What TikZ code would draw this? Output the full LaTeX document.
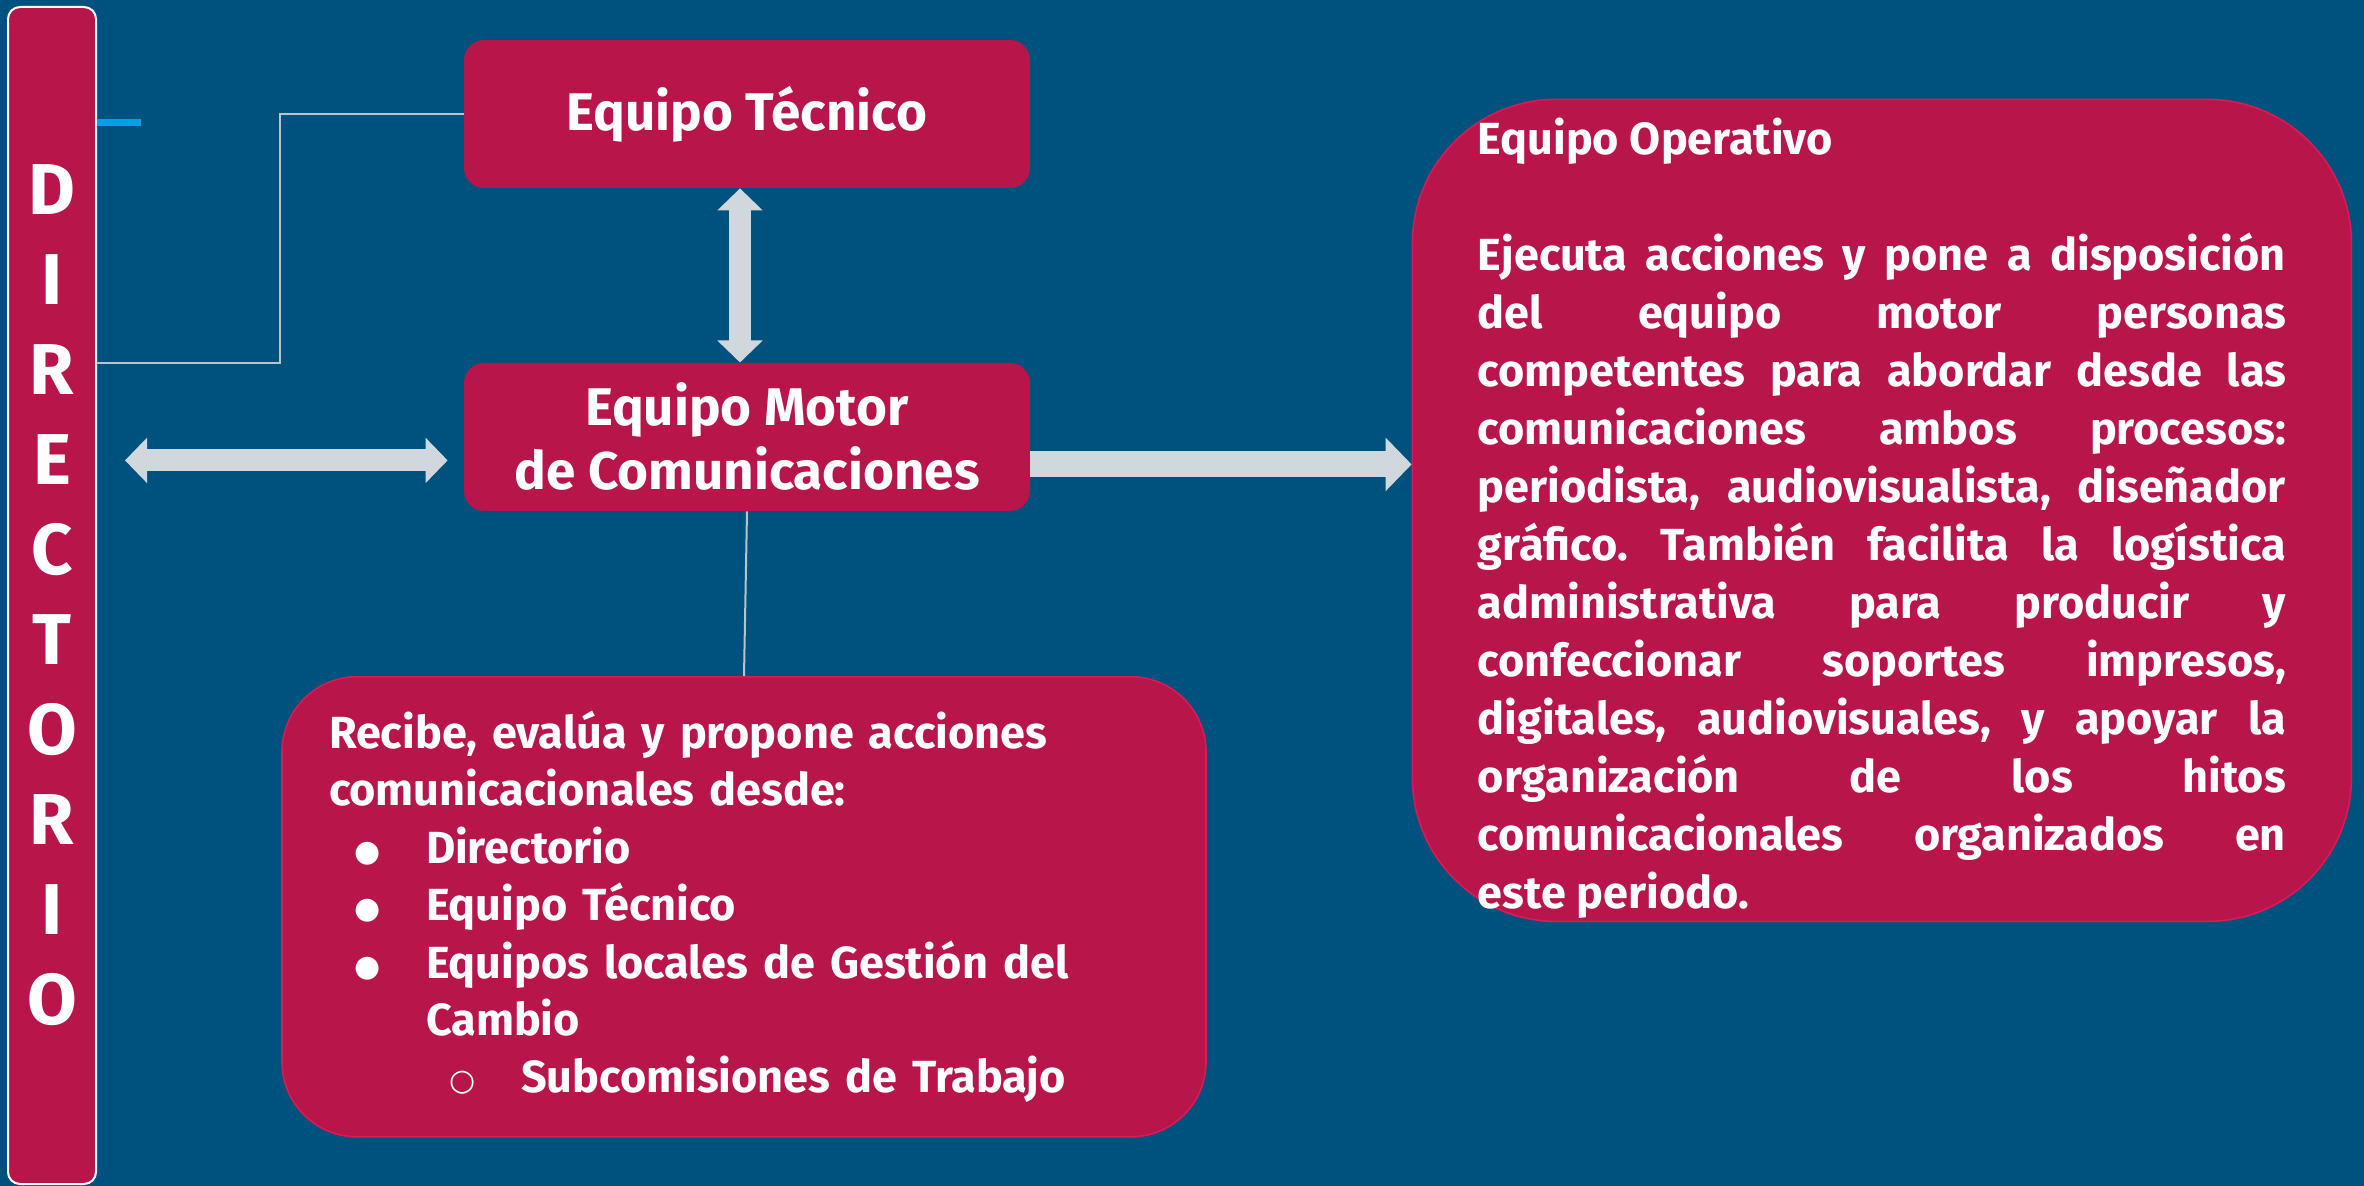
\documentclass[tikz,border=0pt]{standalone}
\usepackage{fontspec}
\setmainfont{Fira Sans}
\newfontfamily\symbfont{DejaVu Sans}
\usetikzlibrary{arrows.meta,positioning,calc}
\definecolor{fondo}{HTML}{00527E}
\definecolor{grana}{HTML}{B8154B}
\definecolor{bordegrana}{HTML}{D81B55}
\definecolor{gris}{HTML}{D0D8DD}
\definecolor{grislinea}{HTML}{B8C4CA}
\definecolor{celeste}{HTML}{069FE6}
\tikzstyle{equipo}=[fill=grana, text=white, font=\bfseries\fontsize{26.5}{32}\selectfont,
align=center, minimum width=283pt, minimum height=74pt, rounded corners=10pt, inner sep=0pt]
\tikzstyle{caja}=[fill=grana, draw=bordegrana, line width=0.8pt, text=white,
font=\bfseries\fontsize{22.5}{28.7}\selectfont, inner sep=0pt,
execute at begin node={\parindent=0pt\hbadness=10000\tolerance=10000\hyphenpenalty=10000\frenchspacing}]
\tikzstyle{directorio}=[fill=grana, draw=white, line width=1pt, text=white,
font=\bfseries\fontsize{36}{45}\selectfont, align=center, minimum width=44pt,
minimum height=588.5pt, rounded corners=6pt]
\tikzstyle{flecha}=[draw, color=gris, line width=11pt, >={Triangle[width=0pt 2,length=0pt 1]}]
\tikzstyle{linea}=[draw, color=grislinea, line width=1pt]
\tikzstyle{marca}=[draw, color=celeste, line width=3.5pt]
\newcommand{\equipo}[2]{node (p#1)[equipo]{#2}}
\newcommand{\caja}[3]{node (p#1)[caja,#2]{#3}}
\newcommand{\itm}[2]{\hspace*{#1}\makebox[36pt][l]{\raisebox{1pt}{\symbfont\fontsize{15}{15}\selectfont #2}}}

\begin{document}
\begin{tikzpicture}

		% fondo
		\fill[fondo] (0,0) rectangle (1182pt,-593pt);
		\useasboundingbox (0,0) rectangle (1182pt,-593pt);

		% Draw diagram elements
		\path (26pt,-297.75pt) node (dir)[directorio]{D\\I\\R\\E\\C\\T\\O\\R\\I\\O};
		\path (373.5pt,-57pt) \equipo{1}{Equipo Técnico};
		\path (p1.south)+(0,-124.25pt) \equipo{2}{Equipo Motor\\de Comunicaciones};
		\path (p2.east)+(425.75pt,-36.75pt) \caja{3}{text width=404pt, minimum width=469.5pt,
			minimum height=411pt, align=justify, rounded corners=72pt,
			font=\bfseries\fontsize{22.5}{29}\selectfont}{\rule{0pt}{26pt}Equipo Operativo\par\mbox{}\par
			Ejecuta acciones y pone a disposición\linebreak
			del equipo motor personas\linebreak
			competentes para abordar desde las\linebreak
			comunicaciones ambos procesos:\linebreak
			periodista, audiovisualista, diseñador\linebreak
			gráfico. También facilita la logística\linebreak
			administrativa para producir y\linebreak
			confeccionar soportes impresos,\linebreak
			digitales, audiovisuales, y apoyar la\linebreak
			organización de los hitos\linebreak
			comunicacionales organizados en\linebreak
			este periodo.};
		\path (p2.south)+(-1.5pt,-197.75pt) \caja{4}{text width=415pt, minimum width=462pt,
			minimum height=230pt, align=left, rounded corners=37.5pt}{Recibe, evalúa y propone acciones\\
			comunicacionales desde:\\
			\itm{12.5pt}{●}Directorio\\
			\itm{12.5pt}{●}Equipo Técnico\\
			\itm{12.5pt}{●}Equipos locales de Gestión del\\
			\hspace*{48.5pt}Cambio\\
			\itm{60pt}{○}Subcomisiones de Trabajo};

		\coordinate (t) at ($(dir.north east)+(22pt,-58.25pt)$);

		% Draw arrows between elements
		\path [marca] (dir.east |- t) -- (t);
		\path [linea] (p1.west) -- ++(-92pt,0) |- ($(dir.east)+(0,116.25pt)$);
		\path [linea] (p2.south) -- (p4.north);
		\path [flecha,<->] ($(p1.south)+(-3.5pt,0)$) -- ($(p2.north)+(-3.5pt,0)$);
		\path [flecha,<->] ($(dir.east |- p2.west)+(14pt,-11.75pt)$) -- ($(p2.west)+(-8pt,-11.75pt)$);
		\path [flecha,->,line width=13pt] ($(p2.east)+(0,-13.75pt)$) -- ($(p2.east -| p3.west)+(0,-13.75pt)$);
\end{tikzpicture}
\end{document}
